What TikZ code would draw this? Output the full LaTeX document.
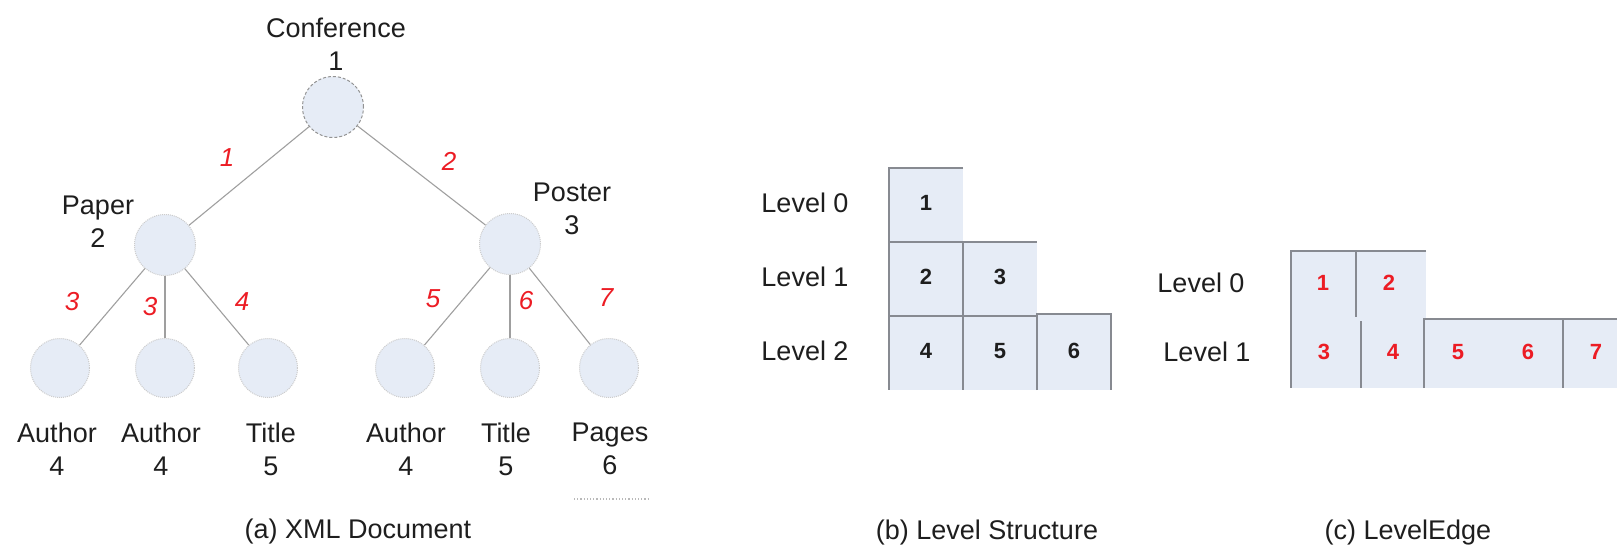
\documentclass[tikz,border=0pt]{standalone}
\usepackage{fontspec}
\setmainfont{Liberation Sans}

\definecolor{cellfill}{RGB}{230,236,246}
\definecolor{cellline}{RGB}{135,138,145}
\definecolor{edgered}{RGB}{236,28,36}
\definecolor{txt}{RGB}{30,30,30}

\tikzset{
    elem/.style={circle, minimum size=61pt, inner sep=0pt, fill=cellfill, draw=gray!40, densely dotted, line width=1pt},
    rootelem/.style={elem, draw=gray!85, densely dashed},
    lbl/.style={inner sep=0pt, text=txt, font=\fontsize{27}{33}\selectfont, align=center},
    elbl/.style={lbl, text=edgered, font=\fontsize{26}{31}\selectfont\itshape},
    cnum/.style={lbl, font=\fontsize{22}{26}\selectfont\bfseries},
    rnum/.style={cnum, text=edgered},
    tedge/.style={draw=gray!75, line width=1.1pt},
    cell/.style={draw=cellline, line width=1.1pt},
}

\begin{document}
\begin{tikzpicture}[x=1pt, y=-1pt]

    \useasboundingbox (0,0) rectangle (1617,555);

    % (a) the tree
    \node[rootelem] (conf) at (333,107) {};
    \node[elem] (paper) at (165,245) {};
    \node[elem] (poster) at (510,244) {};

    \foreach \x/\n in {60/au1, 165/au2, 268/ti1, 405/au3, 510/ti2, 609/pg}
        \node[elem, minimum size=59pt] (\n) at (\x,368) {};

    \draw[tedge] (conf) -- (paper);
    \draw[tedge] (conf) -- (poster);
    \foreach \n in {au1, au2, ti1}
        \draw[tedge] (paper) -- (\n);
    \foreach \n in {au3, ti2, pg}
        \draw[tedge] (poster) -- (\n);

    \node[lbl] (confl) at (336,44) {Conference\\1};
    \node[lbl] (paperl) at (98,222) {Paper\\2};
    \node[lbl] (posterl) at (572,209) {Poster\\3};

    \foreach \x/\t/\k [count=\i] in {57/Author/4, 161/Author/4, 271/Title/5, 406/Author/4, 506/Title/5, 610/Pages/6}
        \node[lbl] (leafl\i) at (\x,449) {\t\\\k};

    \foreach \x/\y/\k in {227/158/1, 449/161/2, 72/302/3, 150/307/3, 242/302/4, 433/299/5, 526/301/6, 606/298/7}
        \node[elbl] (e\k\x) at (\x,\y) {\k};

    \draw[gray!55, dotted, line width=1.2pt] (574,499) -- (650,499);

    \node[lbl] (capa) at (358,532) {(a) XML Document};

    % (b) level structure
    \fill[cellfill] (889,168) rectangle (963,242);
    \fill[cellfill] (889,242) rectangle (1037,316);
    \fill[cellfill] (889,314) rectangle (1111,390);
    \draw[cell] (963,168) -- (889,168) -- (889,390);
    \draw[cell] (889,242) -- (1037,242);
    \draw[cell] (963,242) -- (963,390);
    \draw[cell] (889,316) -- (1037,316);
    \draw[cell] (1037,390) -- (1037,314) -- (1111,314) -- (1111,390);

    \foreach \y/\k in {203/0, 277/1, 351/2}
        \node[lbl] (sl\k) at (805,\y) {Level \k};
    \foreach \x/\y/\k in {926/203/1, 926/277/2, 1000/277/3, 926/351/4, 1000/351/5, 1074/351/6}
        \node[cnum] (s\k) at (\x,\y) {\k};

    \node[lbl] (capb) at (987,533) {(b) Level Structure};

    % (c) level edge
    \fill[cellfill] (1291,251) rectangle (1426,319);
    \fill[cellfill] (1291,319) rectangle (1617,388);
    \draw[cell] (1426,251) -- (1291,251) -- (1291,388);
    \draw[cell] (1356,251) -- (1356,317);
    \draw[cell] (1361,321) -- (1361,388);
    \draw[cell] (1424,388) -- (1424,319) -- (1617,319);
    \draw[cell] (1563,319) -- (1563,388);

    \node[lbl] (el0) at (1201,283) {Level 0};
    \node[lbl] (el1) at (1207,352) {Level 1};
    \foreach \x/\y/\k in {1323/283/1, 1389/283/2, 1324/352/3, 1393/352/4, 1458/352/5, 1528/352/6, 1596/352/7}
        \node[rnum] (r\k) at (\x,\y) {\k};

    \node[lbl] (capc) at (1408,533) {(c) LevelEdge};

\end{tikzpicture}
\end{document}
